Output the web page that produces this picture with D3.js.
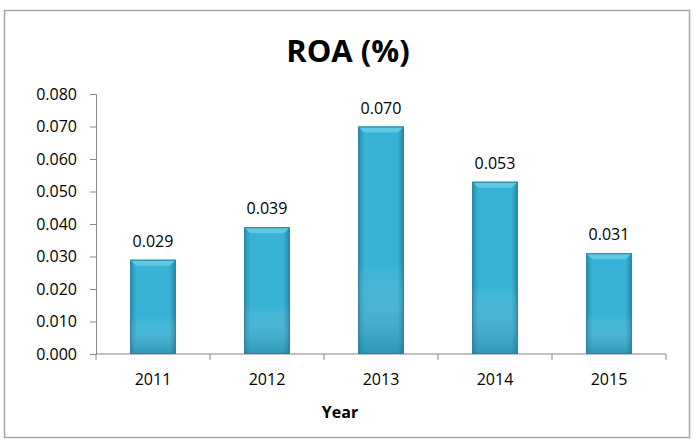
<!DOCTYPE html>
<html><head><meta charset="utf-8">
<script src="https://cdn.jsdelivr.net/npm/d3@7"></script>
<style>body{margin:0;background:#fff}svg{display:block}</style>
</head><body>
<script>
const years = ["2011","2012","2013","2014","2015"];
const roa = [0.029, 0.039, 0.070, 0.053, 0.031];
const yTicks = [0,0.01,0.02,0.03,0.04,0.05,0.06,0.07,0.08];
const title = "ROA (%)";
const xTitle = "Year";

const W = 698, H = 446;
const svg = d3.select("body").append("svg").attr("width", W).attr("height", H);
const font = "'Open Sans', sans-serif";

const defs = svg.append("defs");
const gh = defs.append("linearGradient").attr("id","gh").attr("x1","0").attr("x2","1").attr("y1","0").attr("y2","0");
gh.append("stop").attr("offset","0").attr("stop-color","#2690ae");
gh.append("stop").attr("offset","0.14").attr("stop-color","#37b2d6");
gh.append("stop").attr("offset","0.86").attr("stop-color","#37b2d6");
gh.append("stop").attr("offset","1").attr("stop-color","#268aa6");
const gv = defs.append("linearGradient").attr("id","gv").attr("x1","0").attr("x2","0").attr("y1","0").attr("y2","1");
gv.append("stop").attr("offset","0").attr("stop-color","#ffffff").attr("stop-opacity",0);
gv.append("stop").attr("offset","0.6").attr("stop-color","#ffffff").attr("stop-opacity",0);
gv.append("stop").attr("offset","1").attr("stop-color","#1a6f88").attr("stop-opacity",0.4);

svg.append("rect").attr("x",4.5).attr("y",10.5).attr("width",685).attr("height",427)
  .attr("fill","#fff").attr("stroke","#a6a6a6").attr("stroke-width",1.5);

const x = d3.scaleBand().domain(years).range([96,666]).paddingInner(0.6).paddingOuter(0.3);
const y = d3.scaleLinear().domain([0,0.08]).range([354,94]);

// y axis
const ya = svg.append("g").attr("transform","translate(96,0)")
  .call(d3.axisLeft(y).tickValues(yTicks).tickFormat(d3.format(".3f")).tickSizeOuter(0).tickSize(6).tickPadding(13));
ya.select(".domain").attr("stroke","#868686");
ya.selectAll(".tick line").attr("stroke","#868686");
ya.selectAll("text").attr("font-family",font).attr("font-size",16).attr("fill","#000");

// x axis
const xa = svg.append("g").attr("transform","translate(0,354)")
  .call(d3.axisBottom(x).tickSize(0).tickPadding(20));
xa.select(".domain").remove();
xa.append("line").attr("x1",96).attr("x2",666).attr("stroke","#868686");
const step = x.step();
const bounds = years.map((d,i)=>96+i*step).concat([666]);
xa.selectAll(".bt").data(bounds).enter().append("line")
  .attr("x1",d=>d).attr("x2",d=>d).attr("y1",0).attr("y2",6).attr("stroke","#868686");
xa.selectAll(".tick text").attr("font-family",font).attr("font-size",16).attr("fill","#000");

// bars
const bars = svg.append("g");
years.forEach((yr,i)=>{
  const bx = x(yr), bw = x.bandwidth(), by = y(roa[i]), bh = y(0)-y(roa[i]);
  bars.append("rect").attr("x",bx).attr("y",by).attr("width",bw).attr("height",bh).attr("fill","url(#gh)");
  bars.append("rect").attr("x",bx).attr("y",by).attr("width",bw).attr("height",bh).attr("fill","url(#gv)");
  const b = 6;
  bars.append("path").attr("d",`M${bx},${by}L${bx+bw},${by}L${bx+bw-b},${by+b}L${bx+b},${by+b}Z`).attr("fill","#5ec8e5");
  bars.append("rect").attr("x",bx+0.5).attr("y",by+0.5).attr("width",bw-1).attr("height",bh-1)
    .attr("fill","none").attr("stroke","#2a7f99").attr("stroke-width",1);
  svg.append("text").attr("x",bx+bw/2).attr("y",by-13).attr("text-anchor","middle")
    .attr("font-family",font).attr("font-size",16).attr("fill","#000").text(d3.format(".3f")(roa[i]));
});

svg.append("text").attr("x",348).attr("y",62).attr("text-anchor","middle")
  .attr("font-family",font).attr("font-weight","bold").attr("font-size",31).attr("fill","#000").text(title);
svg.append("text").attr("x",340).attr("y",418).attr("text-anchor","middle")
  .attr("font-family",font).attr("font-weight","bold").attr("font-size",16).attr("fill","#000").text(xTitle);
</script>
</body></html>
